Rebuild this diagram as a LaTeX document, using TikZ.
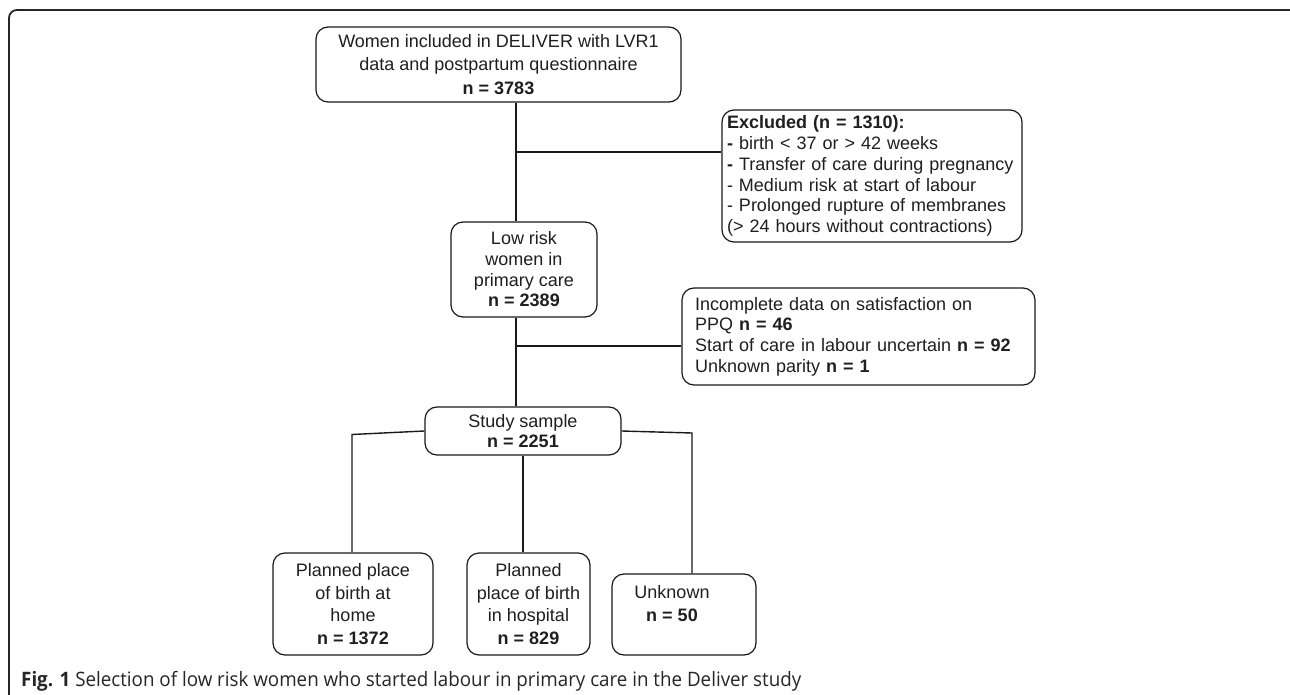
\documentclass[tikz,border=0pt]{standalone}
\usepackage{fontspec}
\setmainfont{Liberation Sans}
\newfontfamily\capfont{Open Sans}
\begin{document}
\begin{tikzpicture}[x=1pt,y=-1pt,
  box/.style={draw=black!90, line width=1.2pt, rounded corners=12pt, align=center, inner sep=0pt,
    font=\fontsize{18}{20.7}\selectfont, text=black!88},
  conn/.style={line width=1.4pt, draw=black!90},
  frame/.style={line width=1.8pt, draw=black!85, rounded corners=8pt}]
\useasboundingbox (0,0) rectangle (1290,695);
\fill[white] (0,0) rectangle (1290,695);
\draw[frame] (9,696) -- (9,10) -- (1292,10);

\node[box, minimum width=365pt, minimum height=75pt, font=\fontsize{18}{23.5}\selectfont] (n1) at (498.5,64.5)
  {Women included in DELIVER with LVR1\\data and postpartum questionnaire\\\textbf{n = 3783}};
\node[box, minimum width=300pt, minimum height=132pt, text width=290pt, inner xsep=5pt, align=left] (ex) at (872,176)
  {\textbf{Excluded (n = 1310):}\\\textbf{-} birth < 37 or > 42 weeks\\\textbf{-} Transfer of care during pregnancy\\- Medium risk at start of labour\\- Prolonged rupture of membranes\\(> 24 hours without contractions)};
\node[box, minimum width=146pt, minimum height=95pt] (lr) at (524,269.5)
  {Low risk\\women in\\primary care\\\textbf{n = 2389}};
\node[box, minimum width=353pt, minimum height=97pt, text width=327pt, inner xsep=13pt, align=left] (pq) at (858.5,336.5)
  {Incomplete data on satisfaction on\\PPQ \textbf{n = 46}\\Start of care in labour uncertain \textbf{n = 92}\\Unknown parity \textbf{n = 1}};
\node[box, minimum width=196pt, minimum height=48pt, font=\fontsize{18}{20}\selectfont] (st) at (523,431)
  {Study sample\\\textbf{n = 2251}};
\node[box, minimum width=160pt, minimum height=102pt, font=\fontsize{18}{22.7}\selectfont] (home) at (353,604)
  {Planned place\\of birth at\\home\\\textbf{n = 1372}};
\node[box, minimum width=123pt, minimum height=102pt, font=\fontsize{18}{22.7}\selectfont] (hos) at (528.5,604)
  {Planned\\place of birth\\in hospital\\\textbf{n = 829}};
\node[box, minimum width=144pt, minimum height=81pt] (unk) at (684,614.5) {};
\node[font=\fontsize{18}{22.7}\selectfont, text=black!88, align=center, inner sep=0pt] (unkt) at (672,603.5)
  {Unknown\\\textbf{n = 50}};

\coordinate (trunk) at (516,0);
\coordinate (j1) at (516,152);
\coordinate (j2) at (516,346);
\coordinate (bl) at (352,434.5);
\coordinate (br) at (692,433);
\draw[conn] (n1.south -| trunk) -- (lr.north -| trunk);
\draw[conn] (j1) -- (j1 -| ex.west);
\draw[conn] (lr.south -| trunk) -- (st.north -| trunk);
\draw[conn] (j2) -- (j2 -| pq.west);
\draw[conn] (st.west) -- (bl) -- (bl |- home.north);
\draw[conn] (st.south) -- (st.south |- hos.north);
\draw[conn] (st.east) -- (br) -- (br |- unk.north);

\node[anchor=base west, inner sep=0pt, text=black!85] (cap) at (21,686)
  {\resizebox{780pt}{15.2pt}{\capfont\textbf{Fig. 1} Selection of low risk women who started labour in primary care in the Deliver study}};
\end{tikzpicture}
\end{document}
